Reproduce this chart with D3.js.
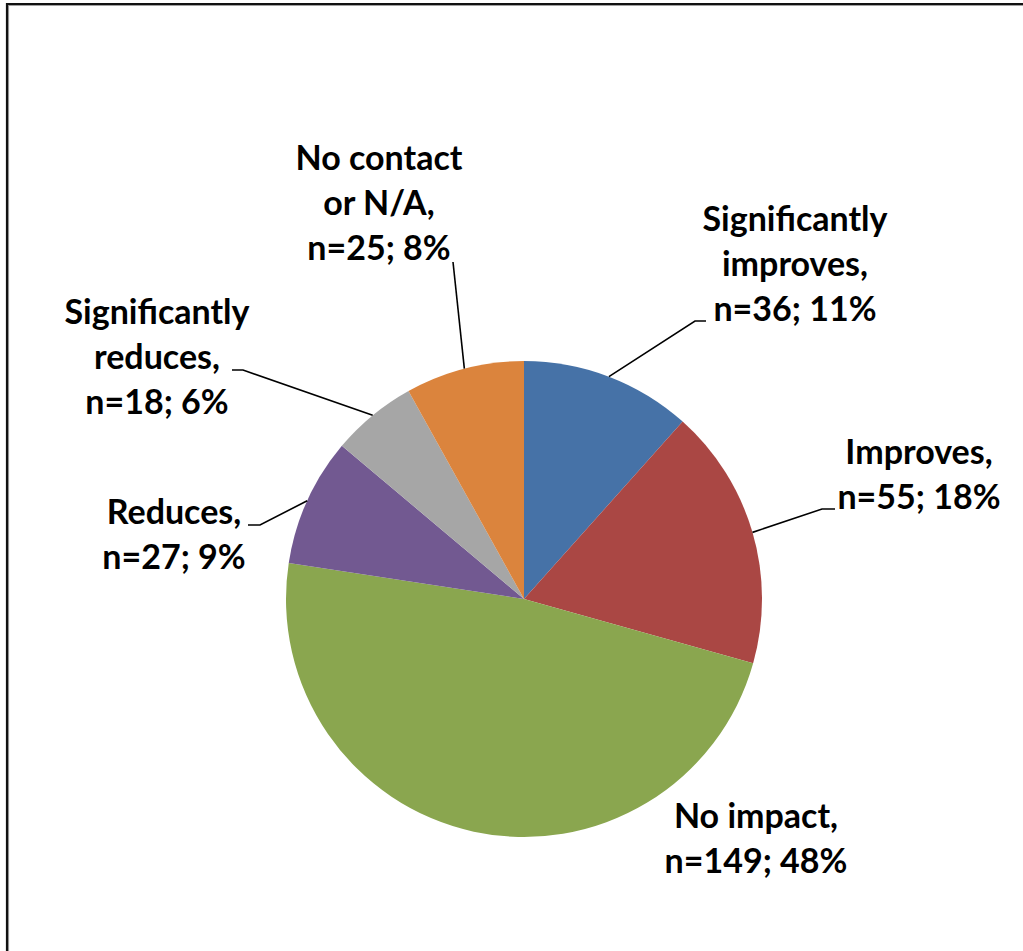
<!DOCTYPE html>
<html>
<head>
<meta charset="utf-8">
<script src="https://cdn.jsdelivr.net/npm/d3@7"></script>
<style>
  html, body { margin: 0; padding: 0; background: #fff; }
  svg { display: block; }
  .lbl { font-family: Lato, "Open Sans", sans-serif; font-weight: 700; fill: #000; }
</style>
</head>
<body>
<svg id="chart" width="1023" height="951"></svg>
<script>
// Responses, clockwise from 12 o'clock
const categories = ["Significantly improves", "Improves", "No impact", "Reduces", "Significantly reduces", "No contact or N/A"];
const counts = [36, 55, 149, 27, 18, 25];
const percentLabels = ["11%", "18%", "48%", "9%", "6%", "8%"];
const labelLines = [
  ["Significantly", "improves,"],
  ["Improves,"],
  ["No impact,"],
  ["Reduces,"],
  ["Significantly", "reduces,"],
  ["No contact", "or N/A,"]
];
const colors = ["#4672A7", "#AA4744", "#8AA64F", "#725991", "#A6A6A6", "#DB843D"];

// Label placement: centre x and first baseline; leader from slice edge to tip (via elbow)
const layout = [
  { x: 795, y: 231, elbow: [695, 321], tip: [706, 321] },
  { x: 919, y: 464, elbow: [822, 509], tip: [835, 509] },
  { x: 756, y: 828, elbow: null, tip: null },
  { x: 174, y: 524, elbow: [260, 525], tip: [248, 525] },
  { x: 157, y: 324, elbow: [243, 370], tip: [232, 370] },
  { x: 379, y: 170, elbow: null, tip: [453, 262] }
];
const lineHeight = 45;

const svg = d3.select("#chart");

// chart frame
svg.append("path").attr("d", "M8.5,951 V5.5 H1023")
  .attr("fill", "none").attr("stroke", "#a0a0a0").attr("stroke-width", 1.2);
svg.append("path").attr("d", "M7,951 V4 H1023")
  .attr("fill", "none").attr("stroke", "#111").attr("stroke-width", 2.2);

const cx = 524, cy = 599, r = 238;
const data = categories.map((c, i) => ({ name: c, value: counts[i], i }));

const pie = d3.pie().value(d => d.value).sort(null);
const arcs = pie(data);
const arc = d3.arc().innerRadius(0).outerRadius(r);

const g = svg.append("g").attr("transform", `translate(${cx},${cy})`);
g.selectAll("path.slice").data(arcs).join("path")
  .attr("class", "slice")
  .attr("d", arc)
  .attr("fill", d => colors[d.data.i]);

// leader lines
const edge = d3.arc().innerRadius(r).outerRadius(r);
arcs.forEach(a => {
  const L = layout[a.data.i];
  if (!L.tip) return;
  const [ex, ey] = edge.centroid(a);
  const pts = [[cx + ex, cy + ey]];
  if (L.elbow) pts.push(L.elbow);
  pts.push(L.tip);
  svg.append("path")
    .attr("d", d3.line()(pts))
    .attr("fill", "none")
    .attr("stroke", "#000")
    .attr("stroke-width", 1.6);
});

// data labels
arcs.forEach(a => {
  const i = a.data.i;
  const L = layout[i];
  const lines = labelLines[i].concat([`n=${counts[i]}; ${percentLabels[i]}`]);
  const t = svg.append("text").attr("class", "lbl")
    .attr("text-anchor", "middle")
    .attr("font-size", 34);
  lines.forEach((s, k) => {
    t.append("tspan").attr("x", L.x).attr("y", L.y + k * lineHeight).text(s);
  });
});
</script>
</body>
</html>
